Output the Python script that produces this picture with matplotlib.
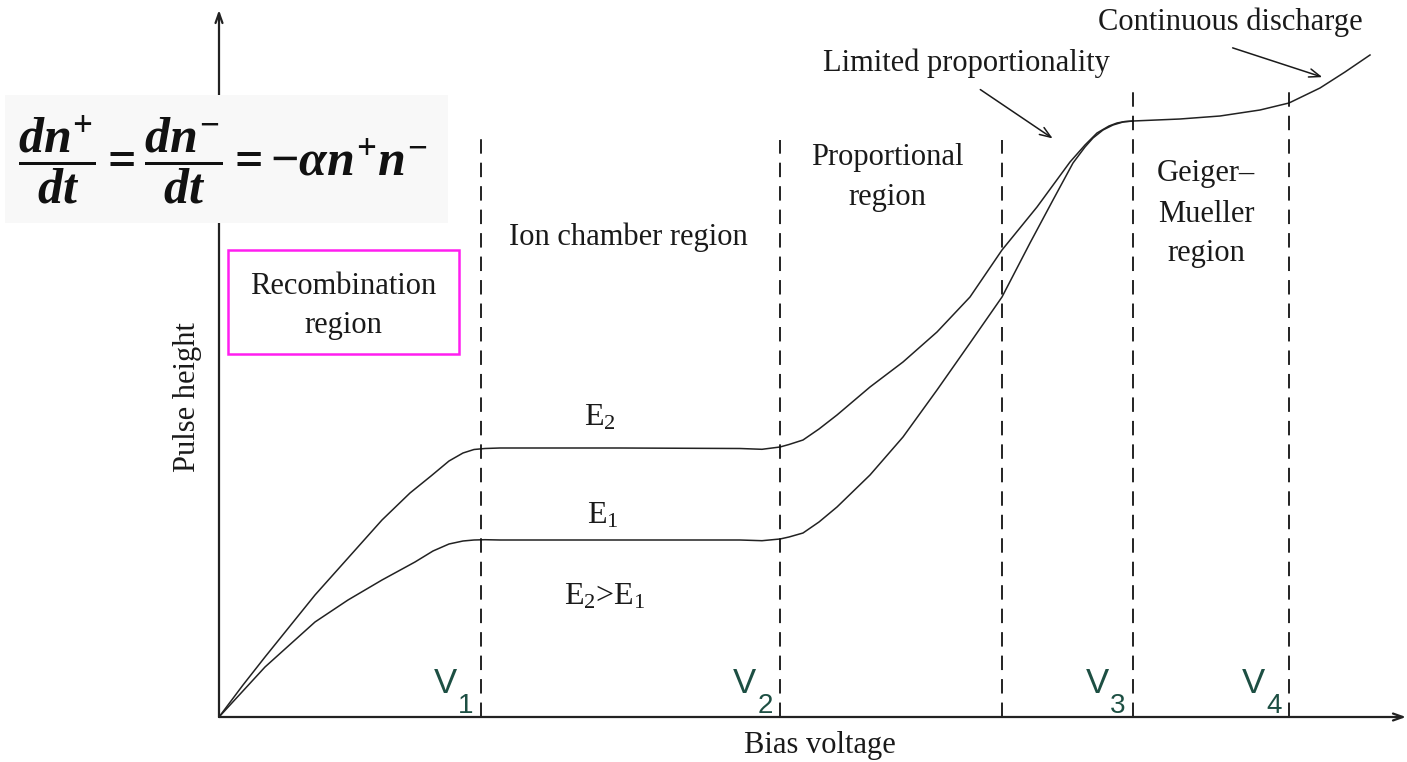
import matplotlib
matplotlib.use('Agg')
import matplotlib.pyplot as plt
from matplotlib.patches import Rectangle

plt.rcParams['font.family'] = ['Liberation Serif', 'DejaVu Serif']
plt.rcParams['mathtext.fontset'] = 'custom'
plt.rcParams['mathtext.it'] = 'Liberation Serif:italic:bold'
plt.rcParams['mathtext.rm'] = 'Liberation Serif:bold'
plt.rcParams['mathtext.bf'] = 'Liberation Serif:bold'

# schematic values (arbitrary units)
bias_e2 = [0, 24, 46, 96, 163, 191, 212, 230, 244, 255, 266, 281, 401, 521, 543,
           561, 570, 584, 600, 618, 651, 684, 718, 751, 783, 818, 851, 866, 878, 890, 898, 906, 914]
height_e2 = [0, 32, 60, 122, 197, 224, 241, 256, 264, 267.5, 268.5, 269, 269, 268.5, 267.7,
             270, 272.5, 277, 288, 302, 330, 355, 385, 420, 467, 510, 555, 572, 584, 591, 594, 595.5, 596]
bias_e1 = [0, 46, 96, 129, 163, 196, 214, 230, 244, 255, 266, 281, 401, 521, 543,
           561, 570, 584, 600, 618, 651, 684, 718, 751, 783, 811, 834, 854, 866, 874, 884, 894, 904, 914]
height_e1 = [0, 50, 95, 117, 137, 155, 166, 173, 176, 177, 177.3, 177, 177, 177, 176.3,
             178, 180, 184, 195, 210, 242, 280, 327, 374, 420, 474, 517, 554, 570, 579, 587, 592, 595, 596]
bias_tail = [914, 961, 1001, 1041, 1070, 1101, 1126, 1151]
height_tail = [596, 598, 601, 607, 614, 629, 645, 662]

region_edges = [262, 561, 783, 914, 1070]
edge_tops = [580, 577, 577, 629, 629]
v_labels = ['1', '2', None, '3', '4']

fig = plt.figure(figsize=(14.07, 7.62), dpi=100)
ax = fig.add_axes([0, 0, 1, 1])
ax.set_xlim(-219, 1188)
ax.set_ylim(-45, 717)
ax.axis('off')

# axes with arrows
arrow_kw = dict(arrowstyle='->,head_length=0.7,head_width=0.25', lw=1.6, color='#222222',
                shrinkA=0, shrinkB=0)
ax.annotate('', xy=(1187, 0), xytext=(0, 0), arrowprops=arrow_kw)
ax.annotate('', xy=(0, 707), xytext=(0, 0), arrowprops=arrow_kw)

# curves
ax.plot(bias_e2, height_e2, color='#222222', lw=1.1)
ax.plot(bias_e1, height_e1, color='#222222', lw=1.1)
ax.plot(bias_tail, height_tail, color='#222222', lw=1.1)

# region boundaries
for x, top in zip(region_edges, edge_tops):
    ax.plot([x, x], [0, top], color='#111111', lw=1.3, linestyle=(0, (8, 5)))

vcol = '#1d4f43'
for x, lab in zip(region_edges, v_labels):
    if lab is None:
        continue
    ax.text(x - 36, 24, 'V', fontsize=25, color=vcol, family='Liberation Sans',
            ha='center', va='baseline')
    ax.text(x - 15, 4, lab, fontsize=20, color=vcol, family='Liberation Sans',
            ha='center', va='baseline')

tcol = '#1a1a1a'
fs = 22
ax.text(1011, 695, 'Continuous discharge', fontsize=fs, ha='center', va='center', color=tcol)
ax.text(747, 654, 'Limited proportionality', fontsize=fs, ha='center', va='center', color=tcol)
ax.annotate('', xy=(836, 577), xytext=(759, 629),
            arrowprops=dict(arrowstyle='->,head_length=0.8,head_width=0.3', lw=1.1, color=tcol))
ax.annotate('', xy=(1106, 639), xytext=(1011, 670),
            arrowprops=dict(arrowstyle='->,head_length=0.8,head_width=0.3', lw=1.1, color=tcol))

ax.text(668, 540, 'Proportional\nregion', fontsize=fs, ha='center', va='center',
        color=tcol, linespacing=1.5)
ax.text(409, 480, 'Ion chamber region', fontsize=fs, ha='center', va='center', color=tcol)
ax.text(987, 503, 'Geiger\u2013\nMueller\nregion', fontsize=fs, ha='center', va='center',
        color=tcol, linespacing=1.5)
ax.text(124, 411, 'Recombination\nregion', fontsize=fs, ha='center', va='center',
        color=tcol, linespacing=1.45)
ax.add_patch(Rectangle((9, 363), 231, 104, fill=False, edgecolor='#ff1ef0', lw=1.8))

ax.text(381, 299, r'E$_\mathregular{2}$', fontsize=23, ha='center', va='center', color=tcol)
ax.text(384, 201, r'E$_\mathregular{1}$', fontsize=23, ha='center', va='center', color=tcol)
ax.text(386, 120, r'E$_\mathregular{2}$>E$_\mathregular{1}$', fontsize=23,
        ha='center', va='center', color=tcol)

ax.text(-31, 320, 'Pulse height', fontsize=fs, rotation=90, ha='center', va='center',
        color=tcol)
ax.text(601, -28, 'Bias voltage', fontsize=fs, ha='center', va='center', color=tcol)

# equation panel
ax.add_patch(Rectangle((-214, 494), 443, 128, facecolor='#f8f8f8', edgecolor='none', zorder=5))
ax.text(4, 557, r'$\dfrac{dn^{+}}{dt} = \dfrac{dn^{-}}{dt} = -\alpha n^{+} n^{-}$',
        fontsize=36, ha='center', va='center', color='#111111', zorder=6)

fig.savefig('out.png', dpi=100)
